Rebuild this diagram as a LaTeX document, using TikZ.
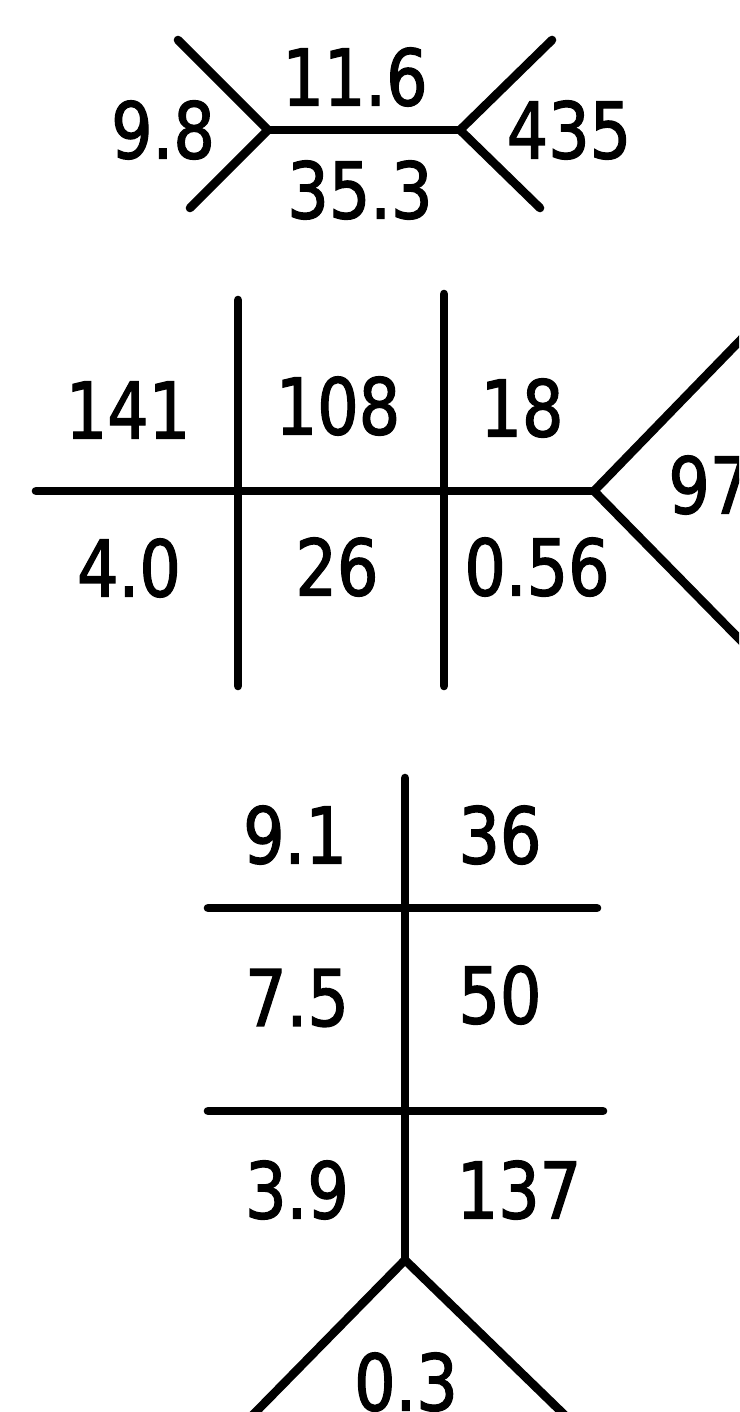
\documentclass[tikz,border=0pt]{standalone}
\usepackage{fontspec}
\setmainfont[FakeBold=1.6,FakeStretch=0.93]{DejaVu Sans Condensed}
\begin{document}
\begin{tikzpicture}[x=0.5pt,y=-0.5pt,
  ln/.style={line width=4.3pt,line cap=round,line join=miter},
  lbl/.style={inner sep=0pt,font=\fontsize{39}{39}\selectfont}]
\useasboundingbox (0,0) rectangle (739,1412);
\clip (0,0) rectangle (739,1412);
% top figure
\coordinate (tl) at (268,130);
\coordinate (tr) at (460,130);
\coordinate (tlu) at (178,40);
\coordinate (tld) at (190,208);
\coordinate (tru) at (552,40);
\coordinate (trd) at (540,208);
\draw[ln] (tlu) -- (tl) -- (tld);
\draw[ln] (tl) -- (tr);
\draw[ln] (tru) -- (tr) -- (trd);
\node[lbl] (a1) at (355,77) {11.6};
\node[lbl] (a2) at (360,190) {35.3};
\node[lbl] (a3) at (163,130) {9.8};
\node[lbl] (a4) at (569,130) {435};
% middle figure
\coordinate (hl) at (36,491);
\coordinate (hv) at (594,491);
\coordinate (hu) at (760,320);
\coordinate (hd) at (760,660);
\coordinate (v1t) at (238,300);
\coordinate (v1b) at (238,686);
\coordinate (v2t) at (444,294);
\coordinate (v2b) at (444,686);
\draw[ln] (hl) -- (hv);
\draw[ln] (hu) -- (hv) -- (hd);
\draw[ln] (v1t) -- (v1b);
\draw[ln] (v2t) -- (v2b);
\node[lbl] (b1) at (128,410) {141};
\node[lbl] (b2) at (338,406) {108};
\node[lbl] (b3) at (522,408) {18};
\node[lbl] (b4) at (129,568) {4.0};
\node[lbl] (b5) at (337,567) {26};
\node[lbl] (b6) at (537,567) {0.56};
\node[lbl,anchor=west] (b7) at (668,485) {97};
% bottom figure
\coordinate (vt) at (405,778);
\coordinate (vb) at (405,1260);
\coordinate (h1l) at (208,908);
\coordinate (h1r) at (597,908);
\coordinate (h2l) at (208,1111);
\coordinate (h2r) at (603,1111);
\coordinate (bl) at (240,1428);
\coordinate (br) at (578,1428);
\draw[ln] (vt) -- (vb);
\draw[ln] (h1l) -- (h1r);
\draw[ln] (h2l) -- (h2r);
\draw[ln] (bl) -- (vb) -- (br);
\node[lbl] (c1) at (295,835) {9.1};
\node[lbl] (c2) at (500,835) {36};
\node[lbl] (c3) at (297,998) {7.5};
\node[lbl] (c4) at (500,995) {50};
\node[lbl] (c5) at (297,1190) {3.9};
\node[lbl] (c6) at (519,1190) {137};
\node[lbl] (c7) at (406,1382) {0.3};
\end{tikzpicture}
\end{document}
